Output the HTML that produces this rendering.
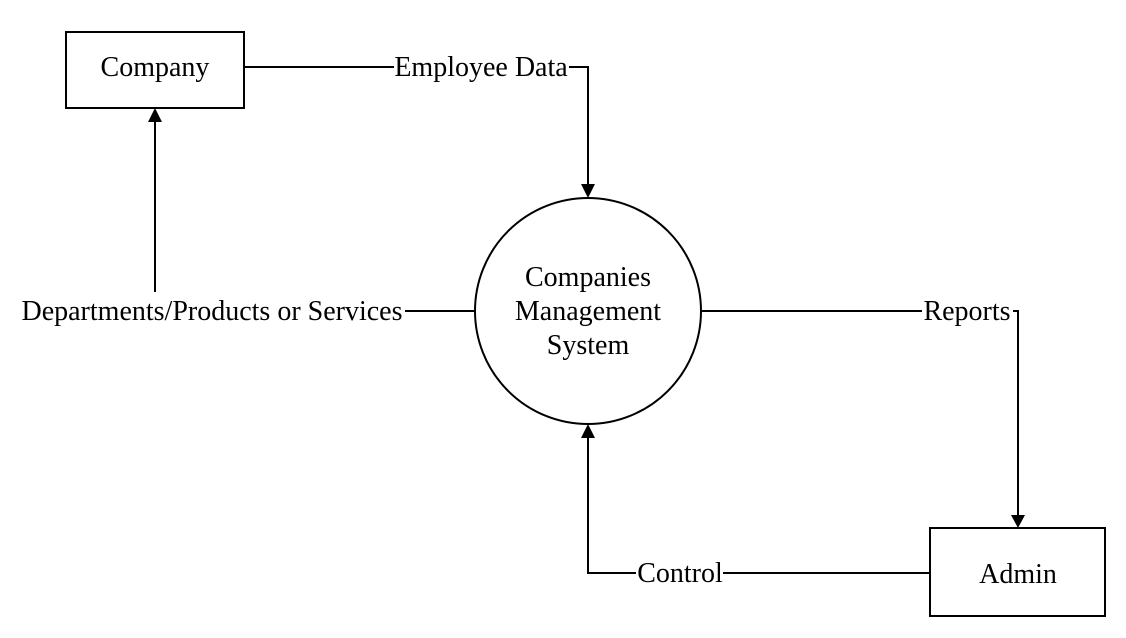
<!DOCTYPE html>
<html><head><meta charset="utf-8"><style>
html,body{margin:0;padding:0;background:#fff;}
svg{display:block;}
text{font-family:"Liberation Serif",serif;font-size:28px;fill:#000;}
</style></head><body>
<svg width="1126" height="638" viewBox="0 0 1126 638">
<g stroke="#000" stroke-width="2" fill="none">
<rect x="66" y="32" width="178" height="76"/>
<rect x="930" y="528" width="175" height="88"/>
<circle cx="588" cy="311" r="113"/>
<path d="M244,67 H394"/><path d="M569,67 H588 V184"/>
<path d="M405,311 H475"/><path d="M155,292 V122"/>
<path d="M701,311 H922"/><path d="M1013,311 H1018 V515"/>
<path d="M930,573 H723"/><path d="M636,573 H588 V438"/>
</g>
<g fill="#000">
<path d="M581,184 L595,184 L588,198 Z"/>
<path d="M148,122 L162,122 L155,108 Z"/>
<path d="M1011,515 L1025,515 L1018,528 Z"/>
<path d="M581,438 L595,438 L588,424 Z"/>
</g>
<text x="155" y="76" text-anchor="middle">Company</text>
<text x="1018" y="583" text-anchor="middle">Admin</text>
<text x="481" y="76" text-anchor="middle">Employee Data</text>
<text x="212" y="320" text-anchor="middle">Departments/Products or Services</text>
<text x="967" y="320" text-anchor="middle">Reports</text>
<text x="680" y="582" text-anchor="middle">Control</text>
<text x="588" y="286" text-anchor="middle">Companies</text>
<text x="588" y="320" text-anchor="middle">Management</text>
<text x="588" y="354" text-anchor="middle">System</text>
</svg>
</body></html>
